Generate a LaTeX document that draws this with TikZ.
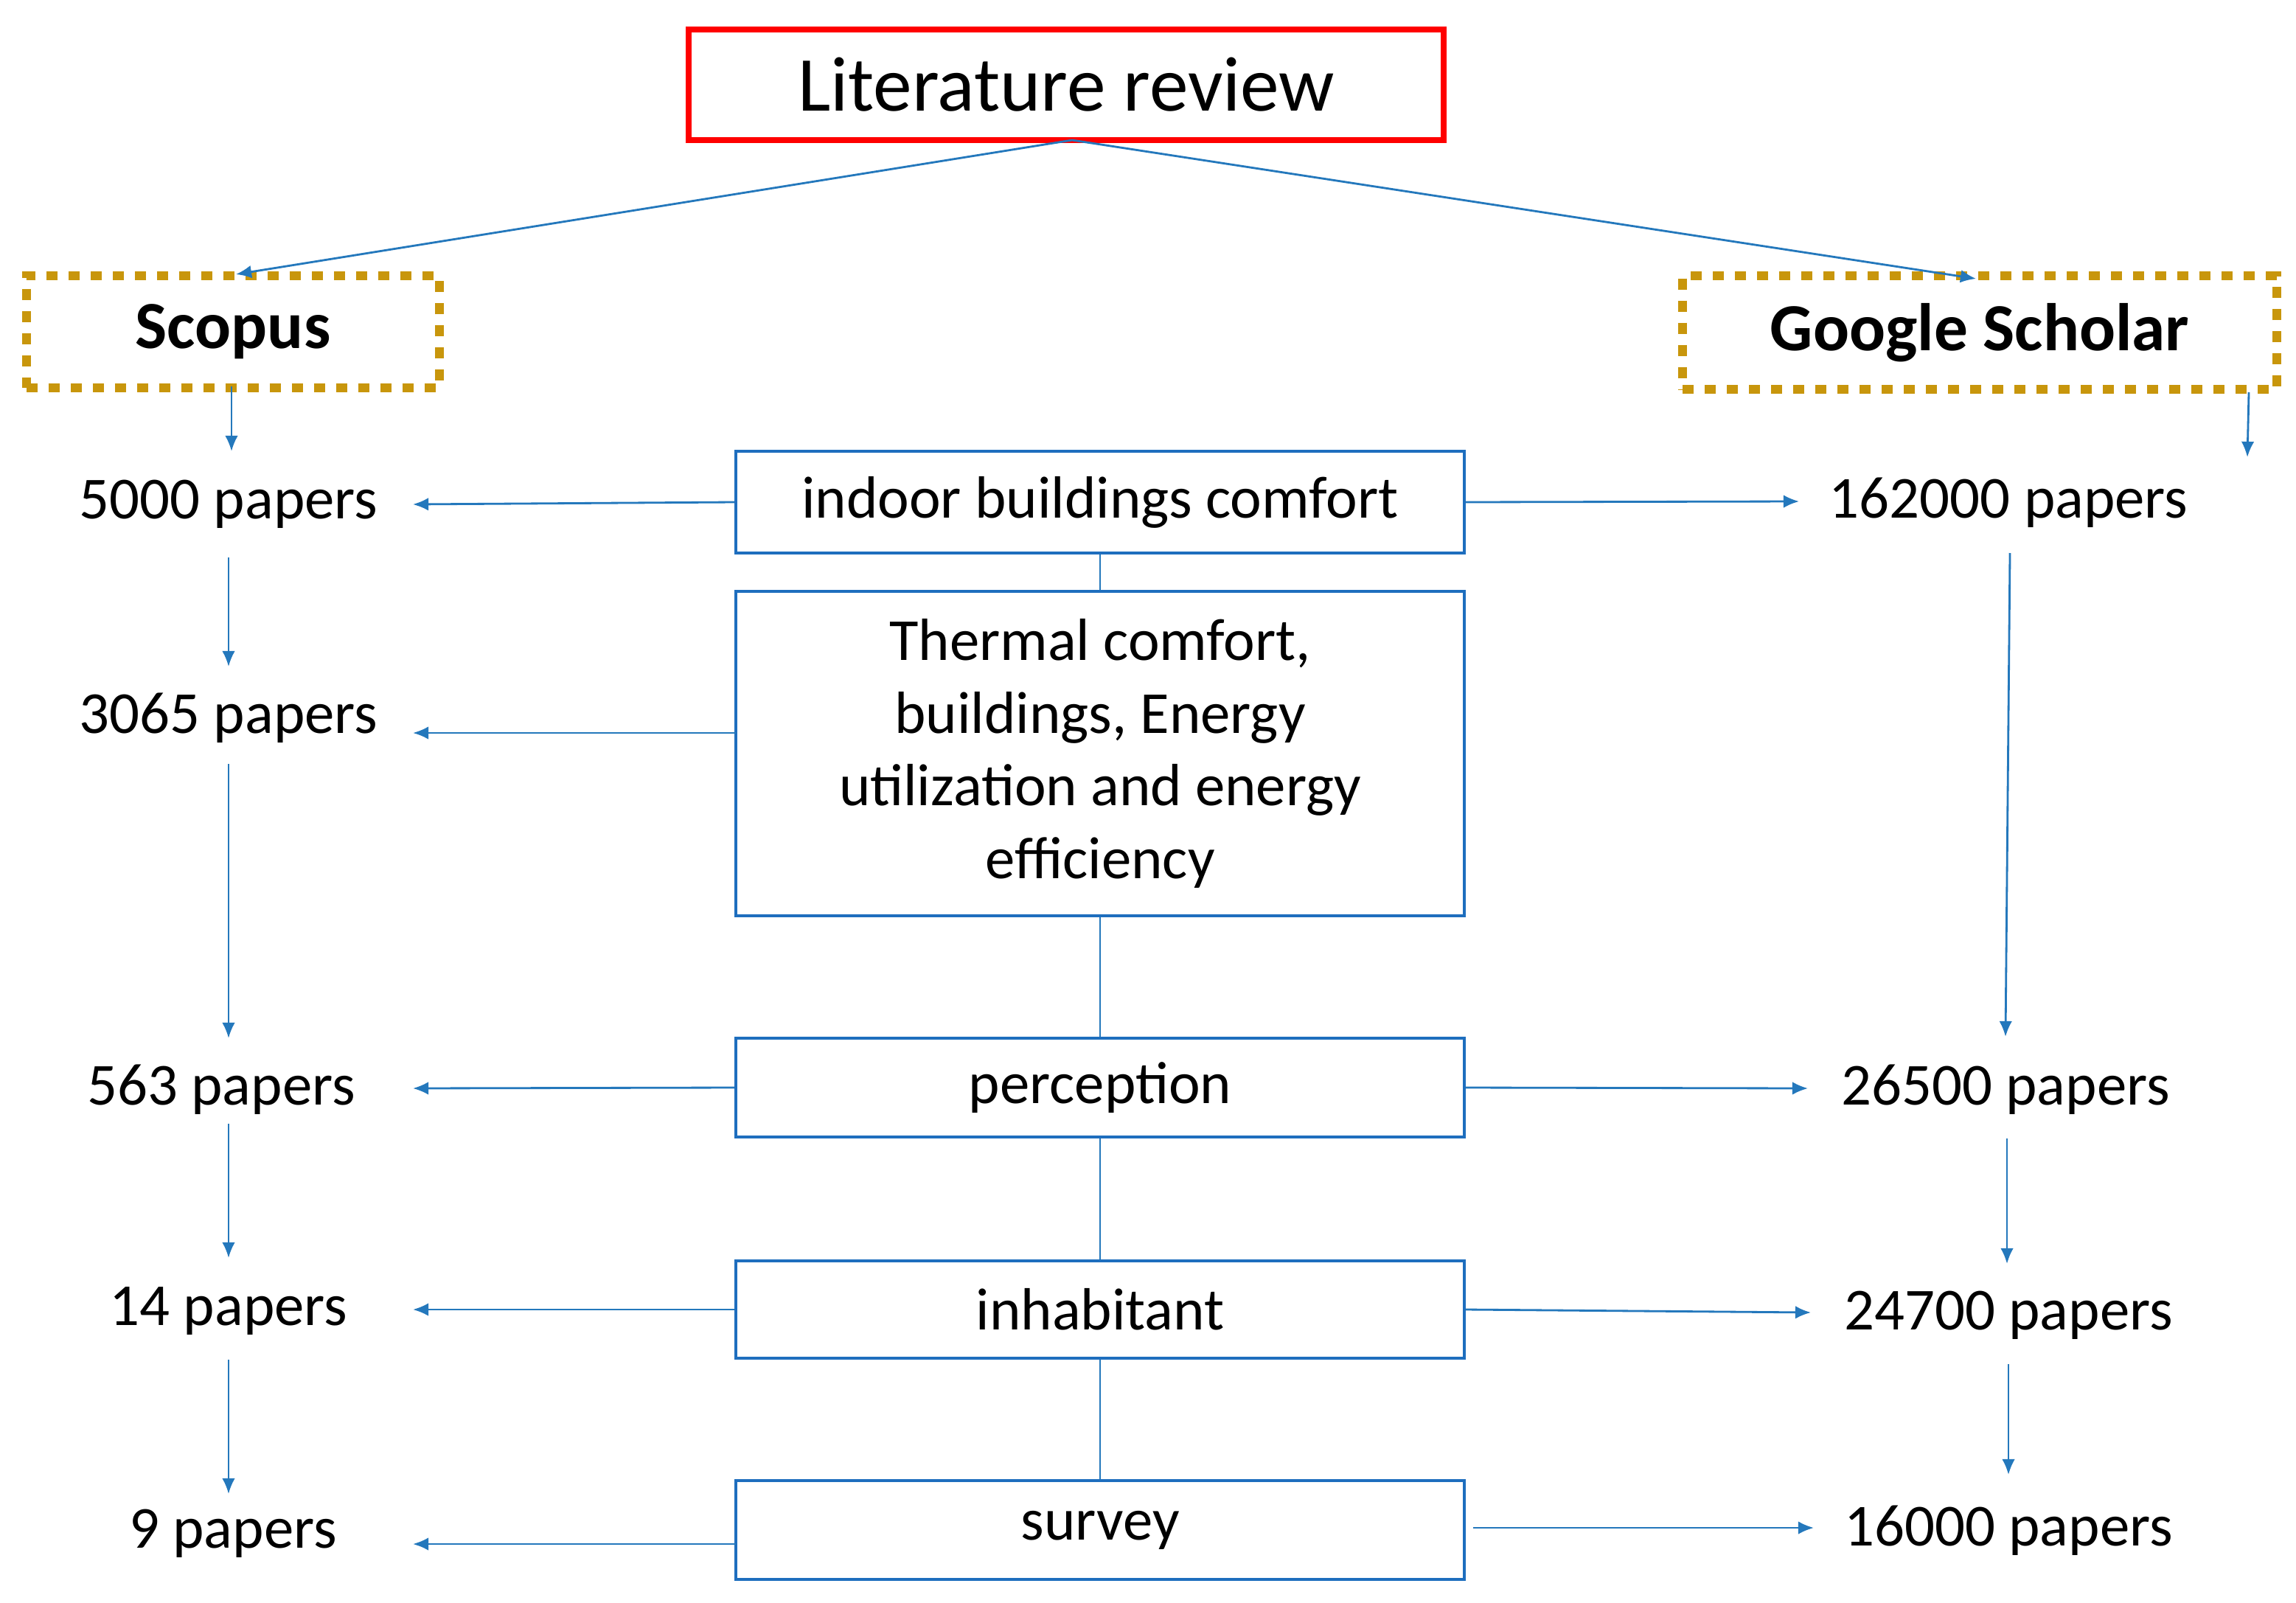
\documentclass[tikz,border=0pt]{standalone}
\usepackage{fontspec}
\setmainfont{Carlito}
\usetikzlibrary{arrows.meta}
\begin{document}
\begin{tikzpicture}[x=0.02cm,y=-0.02cm,
  arr/.style={draw=cyan!60!blue!90!black, line width=0.8pt, -{Latex[length=6pt,width=5pt]}},
  ln/.style={draw=cyan!60!blue!90!black, line width=0.8pt},
  t/.style={font=\fontsize{23}{28}\selectfont},
  gold/.style={draw=gold, line width=3.4pt, dash pattern=on 0.15cm off 0.15cm}]
\definecolor{gold}{RGB}{200,150,12}
\definecolor{bl}{RGB}{30,110,190}
\useasboundingbox (0,0) rectangle (1557,1086.5);
\node[draw=red,line width=2.3pt,minimum width=512*0.02cm,minimum height=75*0.02cm,font=\fontsize{30}{36}\selectfont] (lit) at (723,57.5) {Literature review};
\node[gold,minimum width=280*0.02cm,minimum height=76*0.02cm,font=\fontsize{26}{30}\selectfont\bfseries] (sc) at (158,225) {Scopus};
\node[gold,minimum width=403*0.02cm,minimum height=77*0.02cm,font=\fontsize{26}{30}\selectfont\bfseries] (gs) at (1342.5,225.5) {Google Scholar};
\tikzset{cb/.style={draw=bl,line width=1.2pt,minimum width=494*0.02cm,t,align=center}}
\node[cb,minimum height=69*0.02cm] (b1) at (746,340.5) {indoor buildings comfort};
\node[cb,minimum height=220*0.02cm] (b2) at (746,511) {Thermal comfort,\\buildings, Energy\\utilization and energy\\efficiency};
\node[cb,minimum height=67*0.02cm] (b3) at (746,737.5) {perception};
\node[cb,minimum height=66*0.02cm] (b4) at (746,888) {inhabitant};
\node[cb,minimum height=67*0.02cm] (b5) at (746,1037.5) {survey};
\node[t] (l1) at (155,342) {5000 papers};
\node[t] (l2) at (155,487) {3065 papers};
\node[t] (l3) at (150,739) {563 papers};
\node[t] (l4) at (155,889) {14 papers};
\node[t] (l5) at (158,1040) {9 papers};
\node[t] (r1) at (1362,341) {162000 papers};
\node[t] (r3) at (1360,739) {26500 papers};
\node[t] (r4) at (1362,892) {24700 papers};
\node[t] (r5) at (1362,1038) {16000 papers};
\coordinate (lt) at (727,95);
\draw[arr] (lt) -- (160,186);
\draw[arr] (lt) -- (1340,189);
\draw[arr] (157,262) -- (157,306);
\draw[arr] (1525,266) -- (1524,310);
\draw[arr] (155,378) -- (155,452);
\draw[arr] (155,518) -- (155,704);
\draw[arr] (155,762) -- (155,853);
\draw[arr] (155,922) -- (155,1013);
\draw[arr] (1363,375) -- (1360,703);
\draw[arr] (1361,772) -- (1361,857);
\draw[arr] (1362,925) -- (1362,1000);
\draw[arr] (b1.west) -- (280,342);
\draw[arr] (499,497) -- (280,497);
\draw[arr] (b3.west) -- (280,738);
\draw[arr] (b4.west) -- (280,888);
\draw[arr] (499,1047) -- (280,1047);
\draw[arr] (b1.east) -- (1220,340);
\draw[arr] (b3.east) -- (1226,738);
\draw[arr] (b4.east) -- (1228,890);
\draw[arr] (999,1036) -- (1230,1036);
\draw[ln] (b1.south) -- (b2.north);
\draw[ln] (b2.south) -- (b3.north);
\draw[ln] (b3.south) -- (b4.north);
\draw[ln] (b4.south) -- (b5.north);
\end{tikzpicture}
\end{document}
